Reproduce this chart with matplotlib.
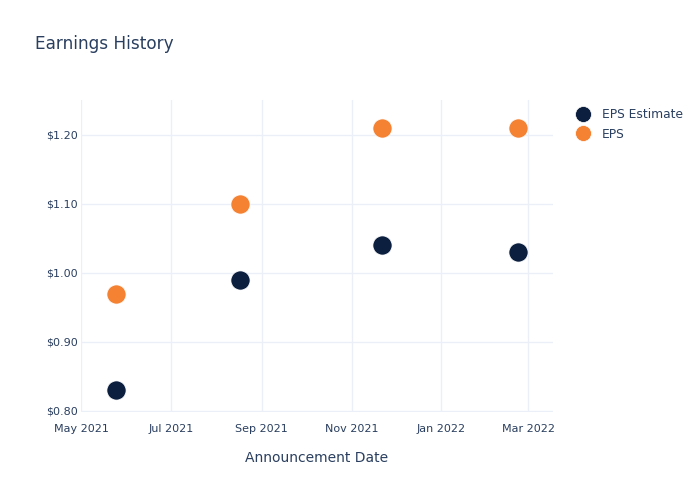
import matplotlib
matplotlib.use("Agg")
import matplotlib.pyplot as plt
import matplotlib.dates as mdates
from matplotlib.lines import Line2D
import pandas as pd

dates = ["2021-05-25", "2021-08-17", "2021-11-22", "2022-02-22"]
eps_estimate = [0.83, 0.99, 1.04, 1.03]
eps_actual = [0.97, 1.10, 1.21, 1.21]
series_names = ["EPS Estimate", "EPS"]
colors = ["#0c1f3f", "#f58233"]
title = "Earnings History"
xlabel = "Announcement Date"
yticks = [0.80, 0.90, 1.00, 1.10, 1.20]

text_color = "#2a3f5f"
grid_color = "#ebf0f8"

x = pd.to_datetime(dates)

fig = plt.figure(figsize=(7, 5), dpi=100)
ax = fig.add_axes([0.1157, 0.176, 0.79 - 0.1157, 0.8 - 0.176])

for vals, name, c in zip([eps_estimate, eps_actual], series_names, colors):
    ax.scatter(x, vals, s=190, color=c, edgecolors="white", linewidths=0.5, zorder=3, label=name)

ax.set_xlim(pd.Timestamp("2021-05-01"), pd.Timestamp("2022-03-18"))
ax.set_ylim(0.7985, 1.2505)
ax.set_yticks(yticks)
ax.set_yticklabels([f"${v:.2f}" for v in yticks])
ax.xaxis.set_major_locator(mdates.MonthLocator(bymonth=[1, 3, 5, 7, 9, 11]))
ax.xaxis.set_major_formatter(mdates.DateFormatter("%b %Y"))

ax.grid(True, color=grid_color, linewidth=1)
ax.set_axisbelow(True)
for s in ax.spines.values():
    s.set_visible(False)
ax.tick_params(axis="both", length=0, colors=text_color, labelsize=8)
ax.tick_params(axis="x", pad=9)
ax.tick_params(axis="y", pad=2.5)

ax.set_xlabel(xlabel, color=text_color, fontsize=10, labelpad=12)
fig.text(35 / 700, 1 - 44 / 500, title, color=text_color, fontsize=12.2, va="center", ha="left")

handles = [Line2D([0], [0], marker="o", linestyle="", markersize=11.5, markerfacecolor=c,
                  markeredgecolor="white", markeredgewidth=0.5) for c in colors]
leg = fig.legend(handles, series_names, loc="upper left", bbox_to_anchor=(571 / 700, 1 - 103 / 500),
                 frameon=False, fontsize=8.8, labelspacing=0.55, handletextpad=0.9, borderaxespad=0,
                 handlelength=1.2)
for t in leg.get_texts():
    t.set_color(text_color)

fig.savefig("out.png", dpi=100)
